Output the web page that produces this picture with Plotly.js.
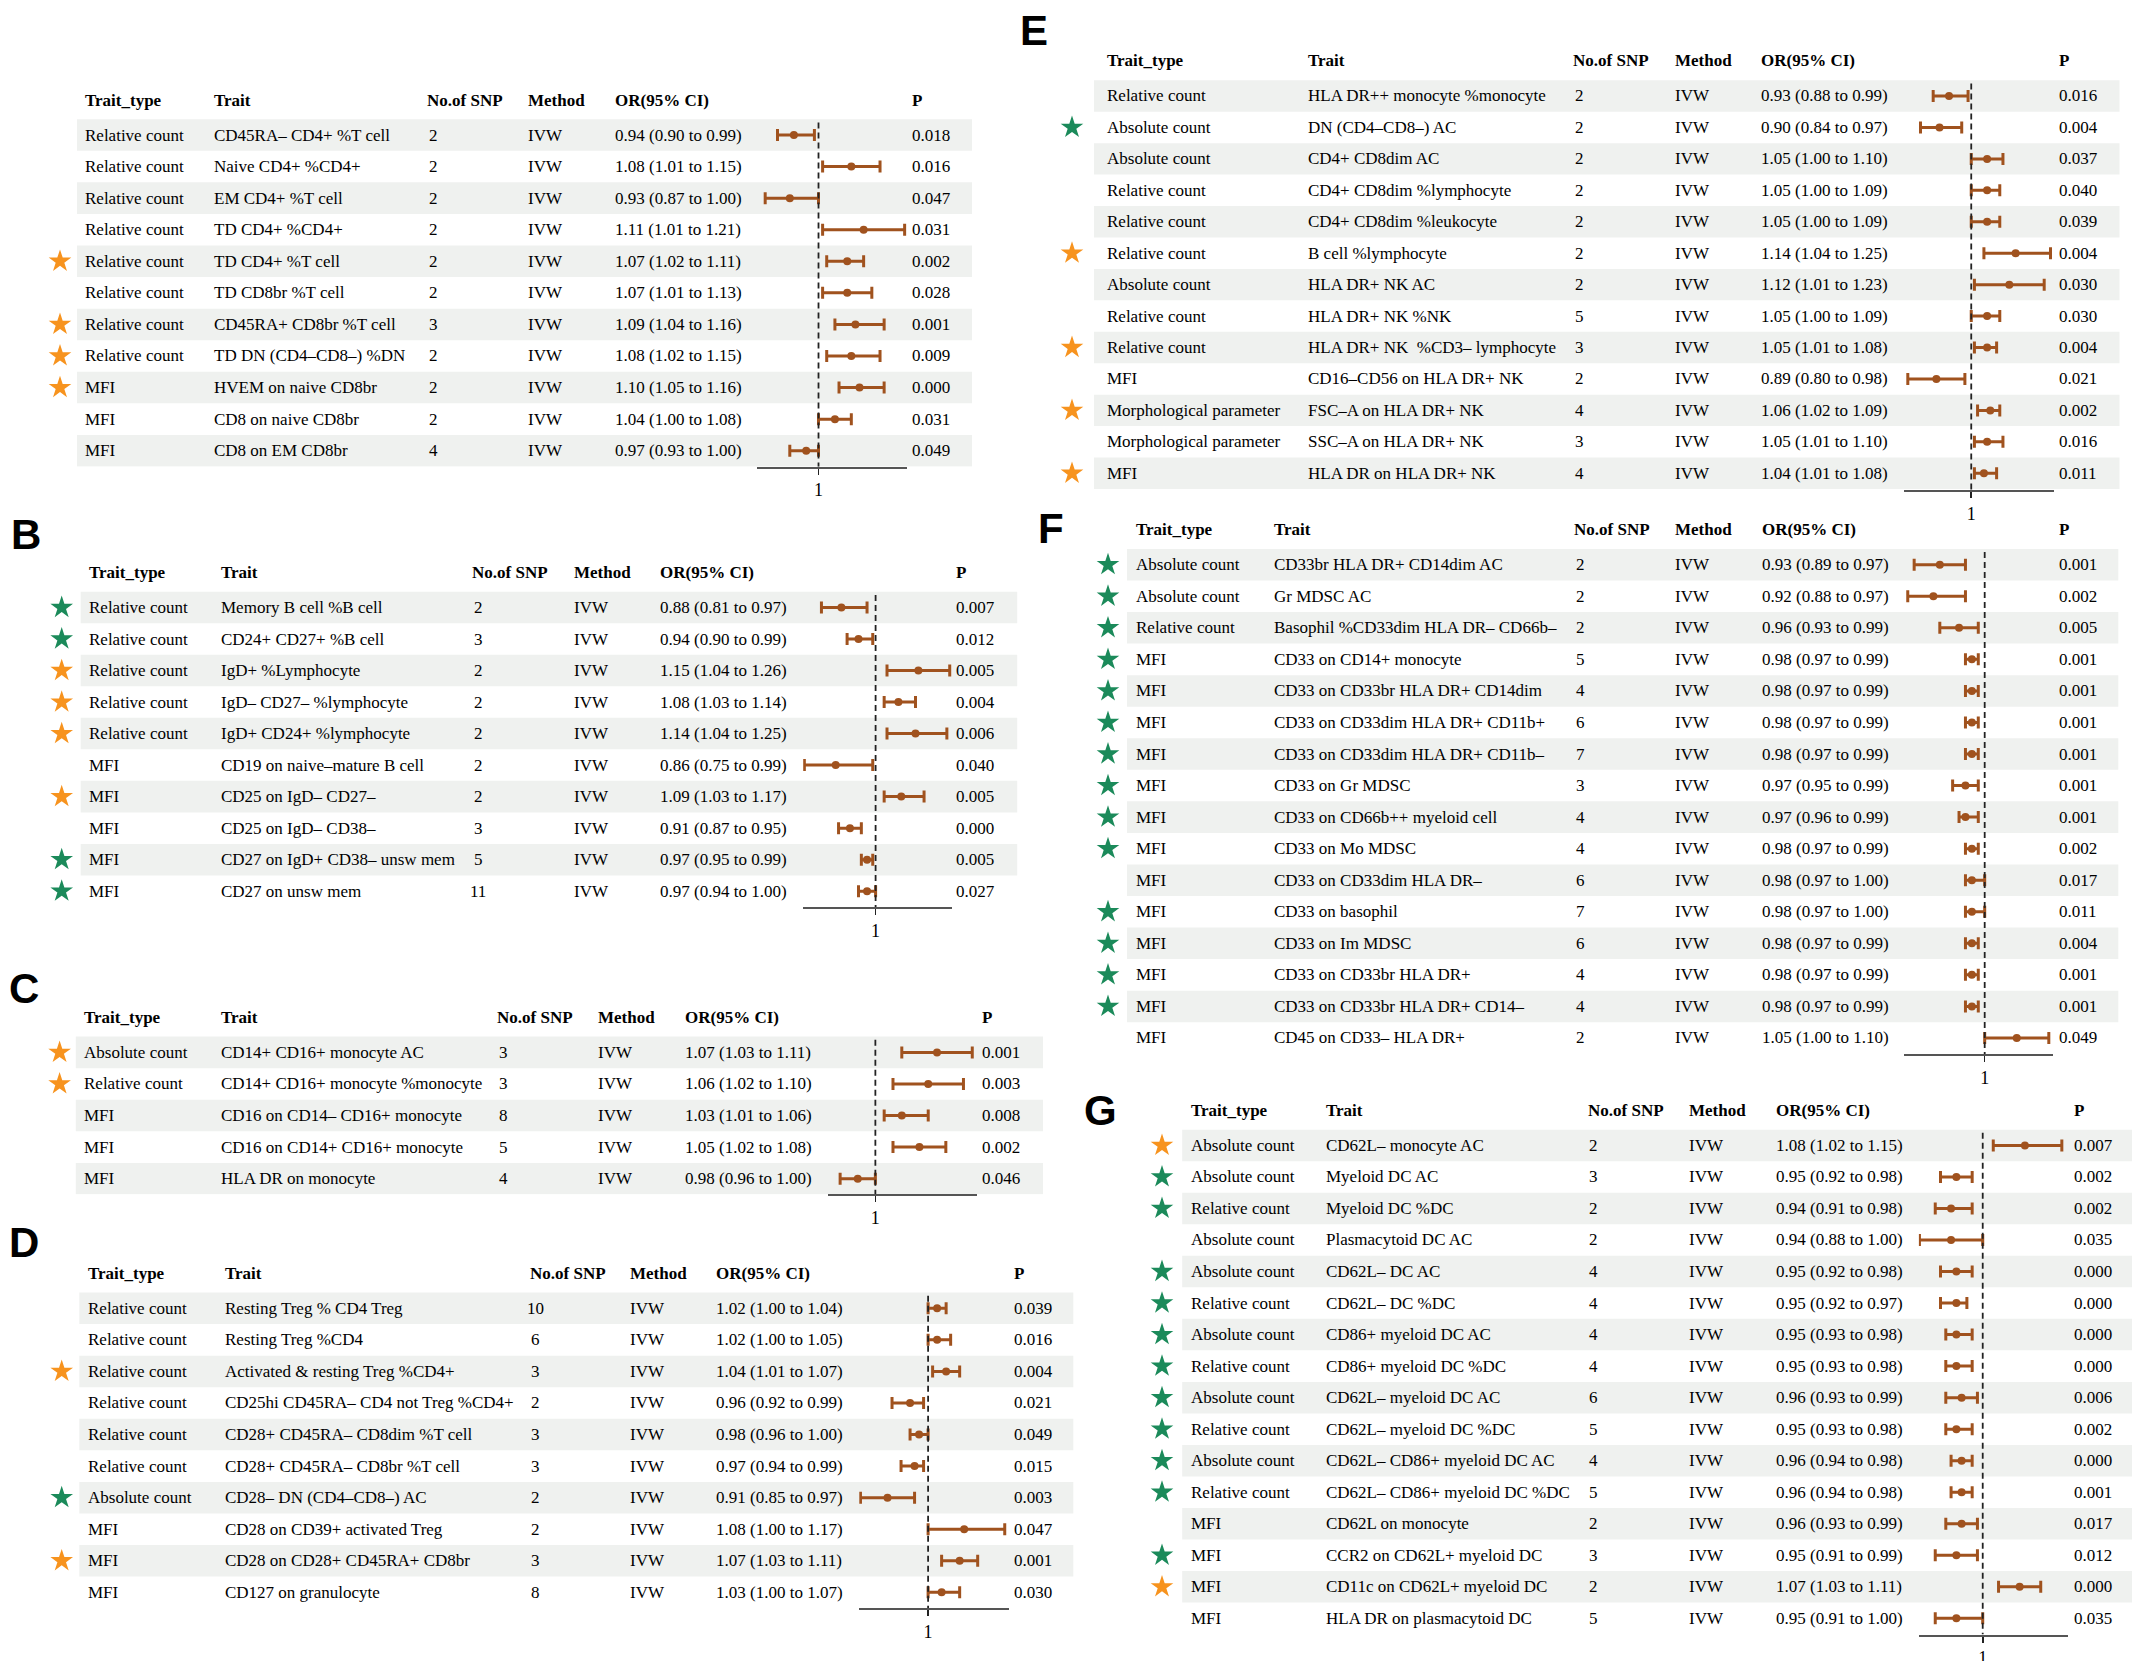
<!DOCTYPE html>
<html><head><meta charset="utf-8">
<script src="https://cdn.plot.ly/plotly-3.0.1.min.js"></script>
<style>html,body{margin:0;padding:0;background:#fff}</style>
</head><body><div id="chart" style="width:2134px;height:1661px"></div>
<script>
// ---------- DATA ----------
const headers = ['Trait_type','Trait','No.of SNP','Method','OR(95% CI)','P'];

// Panel A
const aType = ['Relative count','Relative count','Relative count','Relative count','Relative count','Relative count','Relative count','Relative count','MFI','MFI','MFI'];
const aTrait = ['CD45RA– CD4+ %T cell','Naive CD4+ %CD4+','EM CD4+ %T cell','TD CD4+ %CD4+','TD CD4+ %T cell','TD CD8br %T cell','CD45RA+ CD8br %T cell','TD DN (CD4–CD8–) %DN','HVEM on naive CD8br','CD8 on naive CD8br','CD8 on EM CD8br'];
const aSnp = [2,2,2,2,2,2,3,2,2,2,4];
const aOr = [0.94,1.08,0.93,1.11,1.07,1.07,1.09,1.08,1.10,1.04,0.97];
const aLo = [0.90,1.01,0.87,1.01,1.02,1.01,1.04,1.02,1.05,1.00,0.93];
const aHi = [0.99,1.15,1.00,1.21,1.11,1.13,1.16,1.15,1.16,1.08,1.00];
const aP = ['0.018','0.016','0.047','0.031','0.002','0.028','0.001','0.009','0.000','0.031','0.049'];
const aStar = ['','','','','o','','o','o','o','',''];

// Panel B
const bType = ['Relative count','Relative count','Relative count','Relative count','Relative count','MFI','MFI','MFI','MFI','MFI'];
const bTrait = ['Memory B cell %B cell','CD24+ CD27+ %B cell','IgD+ %Lymphocyte','IgD– CD27– %lymphocyte','IgD+ CD24+ %lymphocyte','CD19 on naive–mature B cell','CD25 on IgD– CD27–','CD25 on IgD– CD38–','CD27 on IgD+ CD38– unsw mem','CD27 on unsw mem'];
const bSnp = [2,3,2,2,2,2,2,3,5,11];
const bOr = [0.88,0.94,1.15,1.08,1.14,0.86,1.09,0.91,0.97,0.97];
const bLo = [0.81,0.90,1.04,1.03,1.04,0.75,1.03,0.87,0.95,0.94];
const bHi = [0.97,0.99,1.26,1.14,1.25,0.99,1.17,0.95,0.99,1.00];
const bP = ['0.007','0.012','0.005','0.004','0.006','0.040','0.005','0.000','0.005','0.027'];
const bStar = ['g','g','o','o','o','','o','','g','g'];

// Panel C
const cType = ['Absolute count','Relative count','MFI','MFI','MFI'];
const cTrait = ['CD14+ CD16+ monocyte AC','CD14+ CD16+ monocyte %monocyte','CD16 on CD14– CD16+ monocyte','CD16 on CD14+ CD16+ monocyte','HLA DR on monocyte'];
const cSnp = [3,3,8,5,4];
const cOr = [1.07,1.06,1.03,1.05,0.98];
const cLo = [1.03,1.02,1.01,1.02,0.96];
const cHi = [1.11,1.10,1.06,1.08,1.00];
const cP = ['0.001','0.003','0.008','0.002','0.046'];
const cStar = ['o','o','','',''];

// Panel D
const dType = ['Relative count','Relative count','Relative count','Relative count','Relative count','Relative count','Absolute count','MFI','MFI','MFI'];
const dTrait = ['Resting Treg % CD4 Treg','Resting Treg %CD4','Activated & resting Treg %CD4+','CD25hi CD45RA– CD4 not Treg %CD4+','CD28+ CD45RA– CD8dim %T cell','CD28+ CD45RA– CD8br %T cell','CD28– DN (CD4–CD8–) AC','CD28 on CD39+ activated Treg','CD28 on CD28+ CD45RA+ CD8br','CD127 on granulocyte'];
const dSnp = [10,6,3,2,3,3,2,2,3,8];
const dOr = [1.02,1.02,1.04,0.96,0.98,0.97,0.91,1.08,1.07,1.03];
const dLo = [1.00,1.00,1.01,0.92,0.96,0.94,0.85,1.00,1.03,1.00];
const dHi = [1.04,1.05,1.07,0.99,1.00,0.99,0.97,1.17,1.11,1.07];
const dP = ['0.039','0.016','0.004','0.021','0.049','0.015','0.003','0.047','0.001','0.030'];
const dStar = ['','','o','','','','g','','o',''];

// Panel E
const eType = ['Relative count','Absolute count','Absolute count','Relative count','Relative count','Relative count','Absolute count','Relative count','Relative count','MFI','Morphological parameter','Morphological parameter','MFI'];
const eTrait = ['HLA DR++ monocyte %monocyte','DN (CD4–CD8–) AC','CD4+ CD8dim AC','CD4+ CD8dim %lymphocyte','CD4+ CD8dim %leukocyte','B cell %lymphocyte','HLA DR+ NK AC','HLA DR+ NK %NK','HLA DR+ NK  %CD3– lymphocyte','CD16–CD56 on HLA DR+ NK','FSC–A on HLA DR+ NK','SSC–A on HLA DR+ NK','HLA DR on HLA DR+ NK'];
const eSnp = [2,2,2,2,2,2,2,5,3,2,4,3,4];
const eOr = [0.93,0.90,1.05,1.05,1.05,1.14,1.12,1.05,1.05,0.89,1.06,1.05,1.04];
const eLo = [0.88,0.84,1.00,1.00,1.00,1.04,1.01,1.00,1.01,0.80,1.02,1.01,1.01];
const eHi = [0.99,0.97,1.10,1.09,1.09,1.25,1.23,1.09,1.08,0.98,1.09,1.10,1.08];
const eP = ['0.016','0.004','0.037','0.040','0.039','0.004','0.030','0.030','0.004','0.021','0.002','0.016','0.011'];
const eStar = ['','g','','','','o','','','o','','o','','o'];

// Panel F
const fType = ['Absolute count','Absolute count','Relative count','MFI','MFI','MFI','MFI','MFI','MFI','MFI','MFI','MFI','MFI','MFI','MFI','MFI'];
const fTrait = ['CD33br HLA DR+ CD14dim AC','Gr MDSC AC','Basophil %CD33dim HLA DR– CD66b–','CD33 on CD14+ monocyte','CD33 on CD33br HLA DR+ CD14dim','CD33 on CD33dim HLA DR+ CD11b+','CD33 on CD33dim HLA DR+ CD11b–','CD33 on Gr MDSC','CD33 on CD66b++ myeloid cell','CD33 on Mo MDSC','CD33 on CD33dim HLA DR–','CD33 on basophil','CD33 on Im MDSC','CD33 on CD33br HLA DR+','CD33 on CD33br HLA DR+ CD14–','CD45 on CD33– HLA DR+'];
const fSnp = [2,2,2,5,4,6,7,3,4,4,6,7,6,4,4,2];
const fOr = [0.93,0.92,0.96,0.98,0.98,0.98,0.98,0.97,0.97,0.98,0.98,0.98,0.98,0.98,0.98,1.05];
const fLo = [0.89,0.88,0.93,0.97,0.97,0.97,0.97,0.95,0.96,0.97,0.97,0.97,0.97,0.97,0.97,1.00];
const fHi = [0.97,0.97,0.99,0.99,0.99,0.99,0.99,0.99,0.99,0.99,1.00,1.00,0.99,0.99,0.99,1.10];
const fP = ['0.001','0.002','0.005','0.001','0.001','0.001','0.001','0.001','0.001','0.002','0.017','0.011','0.004','0.001','0.001','0.049'];
const fStar = ['g','g','g','g','g','g','g','g','g','g','','g','g','g','g',''];

// Panel G
const gType = ['Absolute count','Absolute count','Relative count','Absolute count','Absolute count','Relative count','Absolute count','Relative count','Absolute count','Relative count','Absolute count','Relative count','MFI','MFI','MFI','MFI'];
const gTrait = ['CD62L– monocyte AC','Myeloid DC AC','Myeloid DC %DC','Plasmacytoid DC AC','CD62L– DC AC','CD62L– DC %DC','CD86+ myeloid DC AC','CD86+ myeloid DC %DC','CD62L– myeloid DC AC','CD62L– myeloid DC %DC','CD62L– CD86+ myeloid DC AC','CD62L– CD86+ myeloid DC %DC','CD62L on monocyte','CCR2 on CD62L+ myeloid DC','CD11c on CD62L+ myeloid DC','HLA DR on plasmacytoid DC'];
const gSnp = [2,3,2,2,4,4,4,4,6,5,4,5,2,3,2,5];
const gOr = [1.08,0.95,0.94,0.94,0.95,0.95,0.95,0.95,0.96,0.95,0.96,0.96,0.96,0.95,1.07,0.95];
const gLo = [1.02,0.92,0.91,0.88,0.92,0.92,0.93,0.93,0.93,0.93,0.94,0.94,0.93,0.91,1.03,0.91];
const gHi = [1.15,0.98,0.98,1.00,0.98,0.97,0.98,0.98,0.99,0.98,0.98,0.98,0.99,0.99,1.11,1.00];
const gP = ['0.007','0.002','0.002','0.035','0.000','0.000','0.000','0.000','0.006','0.002','0.000','0.001','0.017','0.012','0.000','0.035'];
const gStar = ['o','g','g','','g','g','g','g','g','g','g','g','','g','o',''];

// ---------- LAYOUT GEOMETRY (pixels) ----------
const W = 2134, H = 1661;
const FONT = 'Liberation Serif, Times New Roman, serif';
const BROWN = '#A0521E', ORANGE = '#F7931E', GREEN = '#1B8A5A', STRIPE = '#EFF1EF';

const panels = [
  {label:'A', type:aType, trait:aTrait, snp:aSnp, or:aOr, lo:aLo, hi:aHi, p:aP, star:aStar,
   g:{letter:[17,23], hdr:100, row1:135, dy:31.57, axis:466.7, stripe:[77,972], cols:[83,212,425,526,612.5,910], star:60, forest:[757.4,907.1], range:[0.851,1.216]}},
  {label:'B', type:bType, trait:bTrait, snp:bSnp, or:bOr, lo:bLo, hi:bHi, p:bP, star:bStar,
   g:{letter:[26,534], hdr:572.1, row1:607.5, dy:31.52, axis:906.9, stripe:[80.7,1017.2], cols:[87,218.9,470,571.7,658,954], star:61.7, forest:[803.2,952], range:[0.746,1.268]}},
  {label:'C', type:cType, trait:cTrait, snp:cSnp, or:cOr, lo:cLo, hi:cHi, p:cP, star:cStar,
   g:{letter:[24,989], hdr:1017.5, row1:1052.4, dy:31.57, axis:1194.3, stripe:[75.8,1043], cols:[82,218.9,495.3,596.3,682.6,980], star:59.6, forest:[827.8,977.2], range:[0.946,1.1156]}},
  {label:'D', type:dType, trait:dTrait, snp:dSnp, or:dOr, lo:dLo, hi:dHi, p:dP, star:dStar,
   g:{letter:[24,1243], hdr:1273.3, row1:1308.3, dy:31.56, axis:1608.3, stripe:[79.3,1073.3], cols:[85.6,223,527.5,627.8,714.1,1012.3], star:61.7, forest:[859.3,1008.8], range:[0.8474,1.179]}},
  {label:'E', type:eType, trait:eTrait, snp:eSnp, or:eOr, lo:eLo, hi:eHi, p:eP, star:eStar,
   g:{letter:[1034,31], hdr:61, row1:96, dy:31.44, axis:490, stripe:[1094,2119.5], cols:[1104.9,1305.9,1571.3,1672.6,1759.4,2057.3], star:1072, forest:[1904,2053.7], range:[0.788,1.26]}},
  {label:'F', type:fType, trait:fTrait, snp:fSnp, or:fOr, lo:fLo, hi:fHi, p:fP, star:fStar,
   g:{letter:[1051,529], hdr:529.1, row1:564.7, dy:31.55, axis:1054.3, stripe:[1127,2118.3], cols:[1134,1272.4,1572.4,1673,1760,2056.7], star:1108, forest:[1903.9,2053.3], range:[0.874,1.107]}},
  {label:'G', type:gType, trait:gTrait, snp:gSnp, or:gOr, lo:gLo, hi:gHi, p:gP, star:gStar,
   g:{letter:[1100,1110.7], hdr:1110.3, row1:1145.4, dy:31.53, axis:1634.6, stripe:[1182.2,2132], cols:[1188.9,1324,1585.5,1687,1773.7,2071.5], star:1162, forest:[1918.9,2068], range:[0.879,1.1617]}}
];

const traces = [], shapes = [], annotations = [];
const layout = {
  width: W, height: H, margin: {l:0, r:0, t:0, b:0},
  paper_bgcolor: '#ffffff', plot_bgcolor: 'rgba(0,0,0,0)',
  showlegend: false, font: {family: FONT, size: 17, color: '#000'},
  xaxis8: {domain:[0,1], range:[0,W], visible:false, fixedrange:true, anchor:'y'}
};

function fmt(v){ return v.toFixed(2); }

panels.forEach((P, k) => {
  const idx = k + 1;
  const xa = idx === 1 ? 'x' : 'x' + idx;
  const ya = idx === 1 ? 'y' : 'y' + idx;
  const xkey = idx === 1 ? 'xaxis' : 'xaxis' + idx;
  const ykey = idx === 1 ? 'yaxis' : 'yaxis' + idx;
  const g = P.g;
  const n = P.or.length;
  const rows = P.or.map((_, i) => i + 1);
  const rowNY = g.row1 + (n - 1) * g.dy;
  const vAx = n + (g.axis - rowNY) / g.dy;
  const vTop = -1.5;
  const topPx = g.row1 + (vTop - 1) * g.dy;
  const toV = px => 1 + (px - g.row1) / g.dy;

  layout[ykey] = {domain:[1 - g.axis / H, 1 - topPx / H], range:[vAx, vTop], visible:false, fixedrange:true, anchor: xa};
  layout[xkey] = {
    domain:[g.forest[0] / W, g.forest[1] / W], range:g.range, anchor: ya,
    showline:true, linecolor:'#555', linewidth:2, mirror:false,
    ticks:'outside', ticklen:6, tickwidth:1.6, tickcolor:'#222',
    tickvals:[1], ticktext:['1'], showgrid:false, zeroline:false,
    tickfont:{family:FONT, size:18, color:'#000'}, fixedrange:true
  };

  // stripes (paper-x so they sit beneath every subplot)
  rows.forEach(r => {
    if (r % 2 === 1) {
      shapes.push({type:'rect', xref:'paper', yref:ya, x0:g.stripe[0] / W, x1:g.stripe[1] / W, y0:r - 0.5, y1:r + 0.5,
        fillcolor:STRIPE, line:{width:0}, layer:'below'});
    }
  });
  // reference dashed line
  shapes.push({type:'line', xref:xa, yref:ya, x0:1, x1:1, y0:0.6, y1:vAx,
    line:{color:'#222', width:1.8, dash:'6px,4px'}, layer:'above'});

  // forest
  traces.push({
    type:'scatter', mode:'markers', x:P.or, y:rows, xaxis:xa, yaxis:ya,
    marker:{size:8, color:BROWN},
    error_x:{type:'data', symmetric:false,
      array:P.hi.map((h, i) => h - P.or[i]), arrayminus:P.lo.map((l, i) => P.or[i] - l),
      color:BROWN, thickness:3, width:6},
    cliponaxis:false, hoverinfo:'skip'
  });

  // stars
  const sy = [], sc = [], sx = [];
  P.star.forEach((s, i) => { if (s) { sy.push(i + 1); sx.push(g.star); sc.push(s === 'o' ? ORANGE : GREEN); } });
  traces.push({type:'scatter', mode:'markers', x:sx, y:sy, xaxis:'x8', yaxis:ya,
    marker:{symbol:'star', size:17, color:sc, line:{width:0}}, cliponaxis:false, hoverinfo:'skip'});

  // letter
  annotations.push({xref:'x8', yref:ya, x:g.letter[0], y:toV(g.letter[1]), text:'<b>' + P.label + '</b>',
    showarrow:false, xanchor:'center', yanchor:'middle',
    font:{family:'Liberation Sans, Arial, sans-serif', size:42, color:'#000'}});

  // header
  const vh = toV(g.hdr);
  headers.forEach((h, c) => {
    annotations.push({xref:'x8', yref:ya, x:g.cols[c], y:vh, text:'<b>' + h + '</b>', showarrow:false,
      xanchor:'left', yanchor:'middle', font:{family:FONT, size:17, color:'#000'}});
  });

  // cells
  rows.forEach((r, i) => {
    const cells = [P.type[i], P.trait[i], null, 'IVW',
      fmt(P.or[i]) + ' (' + fmt(P.lo[i]) + ' to ' + fmt(P.hi[i]) + ')', P.p[i]];
    cells.forEach((t, c) => {
      if (c === 2) {
        annotations.push({xref:'x8', yref:ya, x:g.cols[2] + 8, y:r, text:String(P.snp[i]), showarrow:false,
          xanchor:'center', yanchor:'middle', font:{family:FONT, size:17, color:'#000'}});
      } else {
        annotations.push({xref:'x8', yref:ya, x:g.cols[c], y:r, text:t, showarrow:false,
          xanchor:'left', yanchor:'middle', font:{family:FONT, size:17, color:'#000'}});
      }
    });
  });
});

layout.shapes = shapes;
layout.annotations = annotations;

Plotly.newPlot('chart', traces, layout, {displayModeBar:false, staticPlot:true});
</script>
</body></html>
